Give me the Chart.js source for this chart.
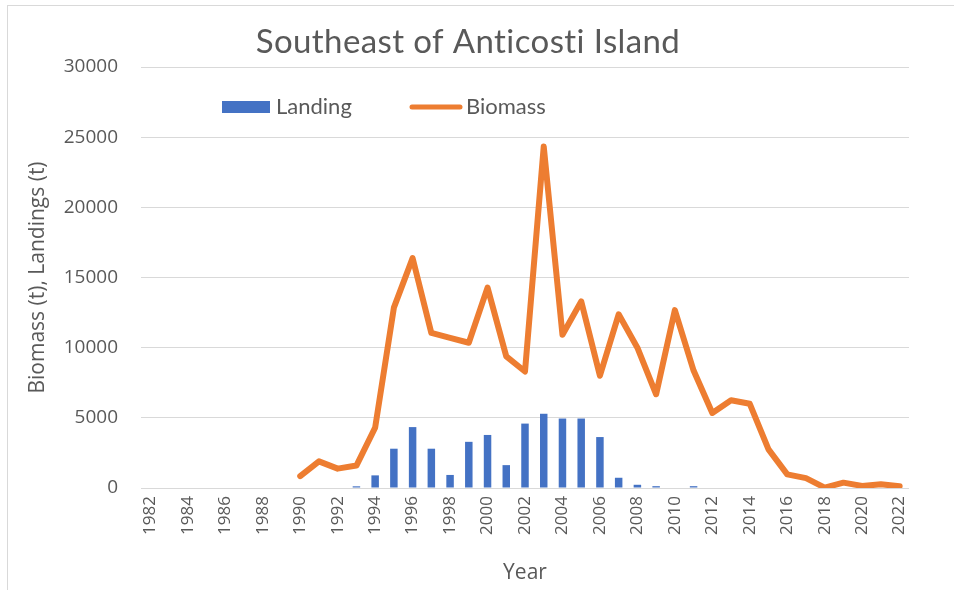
<!DOCTYPE html>
<html>
<head>
<meta charset="utf-8">
<title>Southeast of Anticosti Island</title>
<script src="https://cdn.jsdelivr.net/npm/chart.js@4/dist/chart.umd.min.js"></script>
<style>
  html, body { margin: 0; padding: 0; background: #fff; }
  #wrap { position: relative; width: 954px; height: 590px; overflow: hidden; }
  #frame { position: absolute; left: 7px; top: 5px; width: 1000px; height: 700px;
           border: 1px solid #d9d9d9; box-sizing: border-box; }
  canvas { position: absolute; left: 0; top: 0; }
</style>
</head>
<body>
<div id="wrap">
  <div id="frame"></div>
  <canvas id="chart" width="954" height="590"></canvas>
</div>
<script>
// Survey years
const years = ['1982','1983','1984','1985','1986','1987','1988','1989','1990','1991',
               '1992','1993','1994','1995','1996','1997','1998','1999','2000','2001',
               '2002','2003','2004','2005','2006','2007','2008','2009','2010','2011',
               '2012','2013','2014','2015','2016','2017','2018','2019','2020','2021','2022'];

// Commercial landings (t)
const landing = [null, null, null, null, null, null, null, null, null, null,
                 null, 120, 900, 2800, 4340, 2800, 930, 3290, 3780, 1630,
                 4590, 5290, 4950, 4950, 3630, 730, 230, 130, null, 130,
                 null, null, null, null, null, null, null, null, null, null, null];

// Estimated biomass (t)
const biomass = [null, null, null, null, null, null, null, null, 850, 1900,
                 1380, 1600, 4300, 12850, 16380, 11050, 10700, 10350, 14280, 9380,
                 8300, 24330, 10920, 13300, 8000, 12380, 10000, 6680, 12680, 8370,
                 5350, 6250, 6000, 2750, 970, 700, 30, 380, 150, 260, 130];

const yTicks = { min: 0, max: 30000, step: 5000 };

const titleText = 'Southeast of Anticosti Island';
const yTitle = 'Biomass (t), Landings (t)';
const xTitle = 'Year';

const BLUE = '#4472C4';
const ORANGE = '#ED7D31';
const TEXT = '#595959';
const GRID = '#d9d9d9';

// Chart title and the in-plot legend
const overlay = {
  id: 'overlay',
  afterDraw(chart) {
    const ctx = chart.ctx;
    ctx.save();
    ctx.fillStyle = TEXT;
    ctx.textBaseline = 'middle';

    ctx.font = '33px Lato';
    ctx.letterSpacing = '0.4px';
    ctx.textAlign = 'center';
    ctx.fillText(titleText, 468, 42);
    ctx.letterSpacing = '0px';

    ctx.font = '22px Lato';
    ctx.textAlign = 'left';
    const ds = chart.data.datasets;
    // bar entry
    ctx.fillStyle = ds[0].backgroundColor;
    ctx.fillRect(222, 101, 48, 12);
    ctx.fillStyle = TEXT;
    ctx.fillText(ds[0].label, 276, 107);
    // line entry
    ctx.strokeStyle = ds[1].borderColor;
    ctx.lineWidth = 5;
    ctx.lineCap = 'round';
    ctx.beginPath();
    ctx.moveTo(412, 107);
    ctx.lineTo(460, 107);
    ctx.stroke();
    ctx.fillText(ds[1].label, 466, 107);
    ctx.restore();
  }
};

new Chart(document.getElementById('chart'), {
  type: 'bar',
  data: {
    labels: years,
    datasets: [
      {
        type: 'bar',
        label: 'Landing',
        data: landing,
        backgroundColor: BLUE,
        barPercentage: 0.4,
        categoryPercentage: 1.0,
        order: 1
      },
      {
        type: 'line',
        label: 'Biomass',
        data: biomass,
        borderColor: ORANGE,
        backgroundColor: ORANGE,
        borderWidth: 6,
        borderJoinStyle: 'round',
        borderCapStyle: 'round',
        pointRadius: 0,
        tension: 0,
        spanGaps: false,
        order: 0
      }
    ]
  },
  options: {
    responsive: false,
    animation: false,
    devicePixelRatio: 1,
    layout: { padding: { top: 67, right: 45, bottom: 0, left: 0 } },
    plugins: {
      legend: { display: false },
      title: { display: false },
      tooltip: { enabled: false }
    },
    scales: {
      x: {
        type: 'category',
        offset: true,
        grid: { display: false, drawTicks: false },
        border: { display: false },
        ticks: {
          autoSkip: false,
          minRotation: 90,
          maxRotation: 90,
          padding: 8,
          color: TEXT,
          font: { family: 'Open Sans', size: 17 },
          callback: (v, i) => (i % 2 === 0 ? years[i] : '')
        },
        title: {
          display: true,
          text: xTitle,
          color: TEXT,
          font: { family: 'Open Sans', size: 21 },
          padding: { top: 0, bottom: 4 }
        },
        afterFit: (s) => { s.height = 102; }
      },
      y: {
        min: yTicks.min,
        max: yTicks.max,
        grid: { color: GRID, lineWidth: 1, drawTicks: false },
        border: { display: false },
        ticks: {
          stepSize: yTicks.step,
          padding: 23,
          color: TEXT,
          font: { family: 'Open Sans', size: 19 },
          callback: (v) => String(v)
        },
        title: {
          display: true,
          text: yTitle,
          color: TEXT,
          font: { family: 'Open Sans', size: 21 },
          padding: { top: 25, bottom: 0 }
        },
        afterFit: (s) => { s.width = 141; }
      }
    }
  },
  plugins: [overlay]
});
</script>
</body>
</html>
